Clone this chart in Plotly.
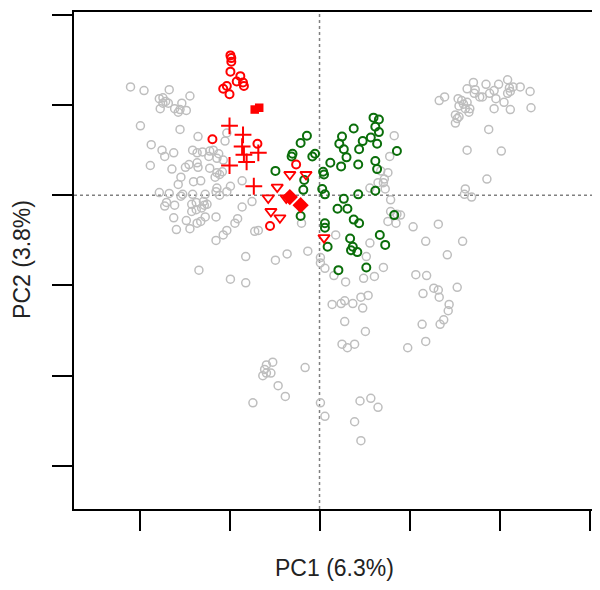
import plotly.graph_objects as go

# ---- data (PC scores) ----
gray_x = [-2.10,-1.95,-1.67,-1.44,-1.78,-1.74,-1.71,-1.68,-1.74,-1.77,-1.53,-1.61,-1.57,-1.48,-1.55,
          -1.99,-1.55,-1.35,-1.05,-1.03,-1.87,-1.75,-1.72,-1.62,-1.41,-1.36,-1.30,-1.22,-1.18,-1.12,
          -1.14,-1.07,-1.23,-1.88,-1.64,-1.49,-1.45,-1.36,-1.35,-1.22,
          -1.14,-1.11,-1.16,-1.08,-1.54,-1.57,-1.40,-1.32,-0.99,-1.14,-1.15,-0.86,-1.78,-1.67,-1.52,
          -1.54,-1.41,-1.27,-1.11,-1.03,-1.72,-1.70,-1.61,-1.42,-1.37,-1.29,-1.25,-1.42,-1.37,-1.31,
          -1.28,-0.75,-0.86,-1.62,-1.48,-1.36,-1.32,-1.27,-1.44,-1.15,-0.94,-0.91,-1.59,-1.03,-1.07,
          -1.15,-0.72,-0.68,-0.20,-0.13,-0.36,-0.49,-0.82,-1.34,-0.99,-0.82,
          0.83,0.78,0.68,0.76,0.72,0.65,0.56,0.73,0.71,0.79,0.79,0.86,0.90,0.76,0.85,1.04,1.32,1.18,
          0.56,0.18,
          1.86,1.62,1.61,1.69,1.59,1.42,0.71,1.07,1.19,1.27,1.32,1.33,1.15,1.53,1.44,1.43,1.38,1.34,
          1.14,1.18,0.98,
          0.01,0.01,0.06,0.16,0.29,0.52,0.49,0.61,0.14,0.24,0.28,0.37,0.46,0.54,0.48,0.28,0.51,0.25,
          0.31,0.39,-0.16,
          -0.59,-0.52,-0.61,-0.63,-0.59,-0.54,-0.46,-0.38,-0.74,0.01,0.06,0.45,0.57,0.65,0.39,0.46,
          1.33,1.39,1.54,1.58,1.60,1.64,1.62,1.67,1.66,1.55,1.51,1.53,1.51,1.55,1.64,1.71,1.73,1.72,
          1.78,1.81,1.85,1.89,1.99,1.94,1.96,2.05,2.09,2.11,2.12,2.09,2.15,2.23,2.34,1.94,2.12,2.35,
          1.88,1.64,2.02]
gray_y = [1.20,1.16,1.17,1.10,1.07,1.08,1.04,1.02,1.02,0.96,1.02,0.96,0.92,0.94,0.95,
          0.77,0.73,0.65,0.60,0.69,0.56,0.50,0.43,0.47,0.50,0.47,0.48,0.49,0.50,0.46,
          0.41,0.39,0.43,0.33,0.29,0.31,0.34,0.36,0.31,0.30,
          0.25,0.23,0.20,0.26,0.20,0.12,0.15,0.16,0.10,0.08,0.04,0.16,0.03,0.02,0.01,
          -0.01,0.01,0.01,0.00,0.04,-0.12,-0.08,-0.11,-0.10,-0.08,-0.07,-0.10,-0.18,-0.16,-0.14,
          -0.11,-0.07,-0.13,-0.25,-0.28,-0.31,-0.29,-0.24,-0.37,-0.24,-0.31,-0.26,-0.38,-0.39,-0.44,
          -0.50,-0.40,-0.39,-0.31,-0.62,-0.65,-0.72,-0.68,-0.83,-0.93,-0.97,
          0.66,0.43,0.27,0.25,0.18,0.14,0.08,0.07,0.14,-0.05,-0.18,-0.21,-0.22,-0.29,-0.31,-0.35,-0.32,-0.51,
          -0.53,-0.44,
          0.18,0.07,0.01,-0.02,-0.51,-0.66,-0.80,-0.88,-0.89,-1.03,-1.05,-1.13,-1.09,-1.02,-1.21,-1.28,-1.38,-1.43,
          -1.43,-1.62,-1.69,
          -0.69,-0.75,-0.81,-0.89,-0.96,-0.68,-0.92,-0.90,-1.21,-1.20,-1.17,-1.20,-1.13,-1.11,-1.25,-1.40,-1.51,-1.65,
          -1.69,-1.65,-1.91,
          -1.88,-1.85,-1.93,-2.00,-1.97,-1.97,-2.11,-2.23,-2.30,-2.30,-2.45,-2.28,-2.25,-2.35,-2.51,-2.72,
          1.05,1.09,1.07,1.05,1.01,1.03,0.96,0.96,0.92,0.99,0.89,0.85,0.80,0.87,1.18,1.25,1.17,1.13,
          1.09,1.09,1.23,1.13,1.23,1.16,1.07,1.03,1.28,1.19,1.15,1.13,1.20,1.20,1.15,0.96,0.95,0.97,
          0.73,0.50,0.49]

green_x = [0.60,0.66,0.62,0.66,0.38,0.25,0.22,0.27,0.30,0.57,0.48,0.44,0.64,0.86,-0.14,-0.21,
           -0.30,-0.31,-0.05,-0.08,0.12,0.24,0.43,0.62,0.64,-0.49,0.04,0.05,-0.17,-0.18,0.03,0.06,
           0.43,0.62,0.27,0.20,0.31,-0.21,0.38,0.44,0.83,0.06,0.06,0.67,0.73,0.34,0.37,0.35,0.42,
           0.09,0.21,0.52]
green_y = [0.86,0.84,0.76,0.70,0.74,0.65,0.57,0.51,0.42,0.64,0.60,0.51,0.57,0.49,0.66,0.58,
           0.46,0.43,0.46,0.43,0.36,0.32,0.34,0.38,0.29,0.27,0.26,0.23,0.17,0.06,0.07,0.01,
           0.01,0.05,-0.04,-0.15,-0.15,-0.23,-0.27,-0.31,-0.22,-0.31,-0.36,-0.44,-0.55,-0.48,-0.57,-0.61,-0.63,
           -0.57,-0.83,-0.80]

red_circle_x = [-0.99,-0.98,-0.98,-0.99,-0.88,-0.92,-0.85,-0.84,-1.03,-1.07,-1.00,-1.19,-0.69,-0.26,-0.55]
red_circle_y = [1.55,1.52,1.48,1.37,1.32,1.26,1.25,1.21,1.21,1.18,1.12,0.62,0.57,0.34,-0.34]
red_square_x = [-0.72,-0.67]
red_square_y = [0.95,0.97]
red_plus_x = [-1.00,-0.85,-0.86,-0.84,-0.81,-0.68,-1.00,-0.73]
red_plus_y = [0.77,0.67,0.54,0.45,0.37,0.47,0.33,0.10]
red_tri_x = [-0.33,-0.15,-0.47,-0.57,-0.37,-0.54,-0.44,0.05]
red_tri_y = [0.23,0.23,0.09,-0.03,-0.03,-0.18,-0.25,-0.47]
red_diamond_x = [-0.33,-0.21]
red_diamond_y = [-0.02,-0.11]

x_ticks = [-2, -1, 0, 1, 2, 3]
y_ticks = [-3, -2, -1, 0, 1, 2]
x_title = "PC1 (6.3%)"
y_title = "PC2 (3.8%)"

GRAY = "#BEBEBE"
RED = "#FF0000"
GREEN = "#0A6E0A"

fig = go.Figure()

def open_trace(x, y, color, symbol, size, lw):
    return go.Scatter(x=x, y=y, mode="markers", hoverinfo="skip", showlegend=False,
                      marker=dict(symbol=symbol, size=size, color=color,
                                  line=dict(color=color, width=lw)))

fig.add_trace(open_trace(gray_x, gray_y, GRAY, "circle-open", 8, 1.5))
fig.add_trace(open_trace(green_x, green_y, GREEN, "circle-open", 8, 2))
fig.add_trace(open_trace(red_circle_x, red_circle_y, RED, "circle-open", 8, 2))
fig.add_trace(open_trace(red_plus_x, red_plus_y, RED, "cross-thin-open", 12, 2))
fig.add_trace(open_trace(red_tri_x, red_tri_y, RED, "triangle-down-open", 10, 1.8))
fig.add_trace(go.Scatter(x=red_square_x, y=red_square_y, mode="markers", hoverinfo="skip",
                         showlegend=False,
                         marker=dict(symbol="square", size=8.5, color=RED, line=dict(width=0))))
fig.add_trace(go.Scatter(x=red_diamond_x, y=red_diamond_y, mode="markers", hoverinfo="skip",
                         showlegend=False,
                         marker=dict(symbol="diamond", size=12.5, color=RED, line=dict(width=0))))

# reference lines at 0
for kw in (dict(x0=0, x1=0, y0=0, y1=1, xref="x", yref="paper"),
           dict(x0=0, x1=1, y0=0, y1=0, xref="paper", yref="y")):
    fig.add_shape(type="line", line=dict(color="#808080", width=1.5, dash="dot"), layer="below", **kw)

axis_common = dict(showgrid=False, zeroline=False, showline=True, mirror=True,
                   linecolor="black", linewidth=2, ticks="outside", ticklen=20,
                   tickwidth=1.5, tickcolor="black", showticklabels=False)

# page body adds an 8px offset; margins compensate so the plot box sits where the reference's does
fig.update_layout(
    width=600, height=590,
    margin=dict(l=66, r=13, t=2, b=89),
    paper_bgcolor="white", plot_bgcolor="white",
    xaxis=dict(range=[-2.728, 3.061], tickvals=x_ticks, **axis_common),
    yaxis=dict(range=[-3.477, 2.031], tickvals=y_ticks, **axis_common),
    font=dict(family="Liberation Sans, Arial, sans-serif", color="#222222"),
    annotations=[
        dict(text=x_title, xref="paper", yref="paper", x=0.5, y=-0.118,
             xanchor="center", yanchor="middle", showarrow=False, font=dict(size=23)),
        dict(text=y_title, xref="paper", yref="paper", x=-0.100, y=0.503,
             xanchor="center", yanchor="middle", showarrow=False, textangle=-90,
             font=dict(size=23)),
    ],
)

fig.write_html("out.html")
